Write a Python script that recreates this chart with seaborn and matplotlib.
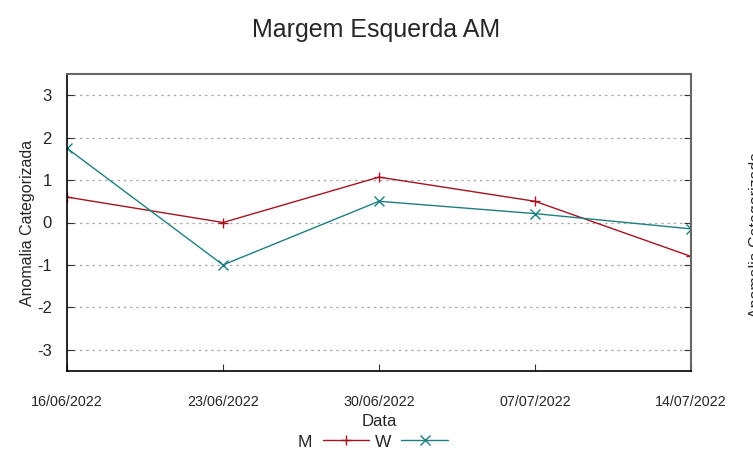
import pandas as pd
import seaborn as sns
import matplotlib.pyplot as plt
from matplotlib.lines import Line2D

datas = ["16/06/2022", "23/06/2022", "30/06/2022", "07/07/2022", "14/07/2022"]
valores_m = [0.6, 0.0, 1.07, 0.5, -0.8]
valores_w = [1.75, -1.0, 0.5, 0.21, -0.15]
series = ["M", "W"]
cores = {"M": "#a3141f", "W": "#1f7f80"}
marcadores = {"M": "+", "W": "x"}

df = pd.DataFrame({
    "Data": pd.to_datetime(datas * 2, format="%d/%m/%Y"),
    "valor": valores_m + valores_w,
    "serie": ["M"] * len(datas) + ["W"] * len(datas),
})

sns.set_style("white")
plt.rcParams["font.family"] = ["Liberation Sans", "DejaVu Sans"]

fig = plt.figure(figsize=(7.53, 4.59), dpi=100)
ax = fig.add_axes([67 / 753, 1 - 371 / 459, 624 / 753, 297 / 459])

# uma linha por serie
for s in series:
    sns.lineplot(
        data=df[df["serie"] == s],
        x="Data",
        y="valor",
        color=cores[s],
        marker=marcadores[s],
        markersize=7,
        markeredgewidth=1,
        markeredgecolor=cores[s],
        linewidth=1,
        ax=ax,
    )

datas_dt = pd.to_datetime(datas, format="%d/%m/%Y")
ax.set_xlim(datas_dt[0], datas_dt[-1])
ax.set_ylim(-3.5, 3.5)
ax.set_xticks(datas_dt)
ax.set_xticklabels(datas, fontsize=10.3)
ax.set_yticks([-3, -2, -1, 0, 1, 2, 3])
ax.set_yticklabels(["-3", "-2", "-1", "0", "1", "2", "3"], fontsize=12)
ax.tick_params(axis="y", direction="in", length=5, left=True, right=True, pad=11, color="#333333")
ax.tick_params(axis="x", direction="in", length=5, bottom=True, pad=17, color="#333333")

ax.yaxis.grid(True, linestyle=(0, (2, 3)), color="#aaaaaa", linewidth=0.9)
ax.xaxis.grid(False)

for lado in ["left", "bottom"]:
    ax.spines[lado].set_color("black")
    ax.spines[lado].set_linewidth(1.2)
for lado in ["top", "right"]:
    ax.spines[lado].set_color("#666666")
    ax.spines[lado].set_linewidth(1.5)
    ax.spines[lado].set_visible(True)

ax.set_xlabel("Data", fontsize=12, labelpad=4)
ax.set_ylabel("Anomalia Categorizada", fontsize=11.5, labelpad=1)
fig.text(0.5, 1 - 30 / 459, "Margem Esquerda AM", fontsize=18, ha="center", va="center")

# rotulo do eixo y direito, cortado na borda
fig.text(757 / 753, 1 - 235 / 459, "Anomalia Categorizada", rotation=90,
         ha="center", va="center", fontsize=11.5)

handles = [
    Line2D([], [], color=cores[s], marker=marcadores[s], markersize=7, linewidth=1)
    for s in series
]
leg = fig.legend(
    handles, series, loc="center", bbox_to_anchor=(373 / 753, 1 - 442 / 459),
    ncol=2, frameon=False, markerfirst=False, fontsize=12.5,
    handlelength=2.7, columnspacing=0.3, handletextpad=0.6,
)

fig.savefig("out.png", dpi=100)
